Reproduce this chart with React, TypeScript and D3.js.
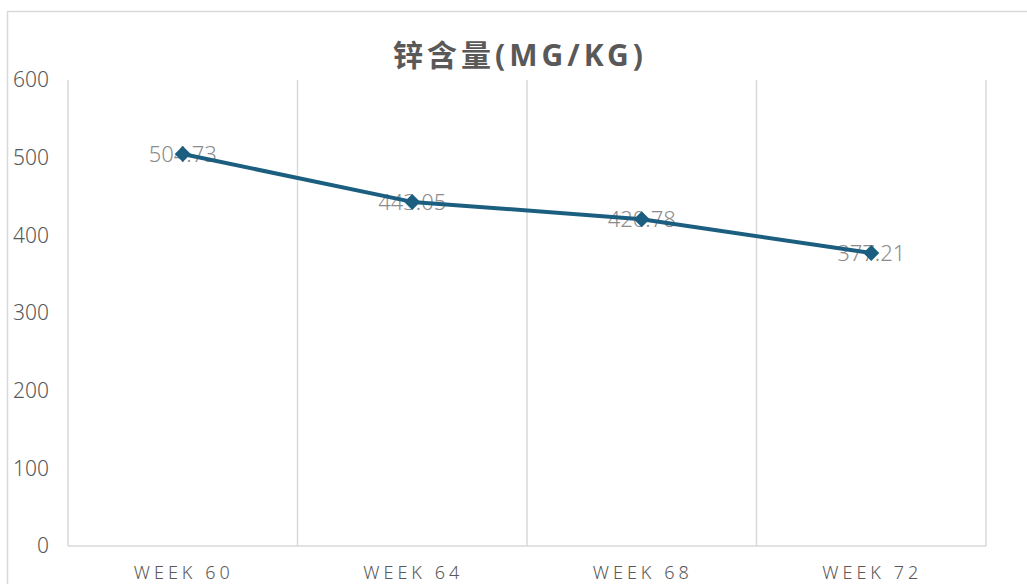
import React from 'react';
import * as d3 from 'd3';

const categories = ['WEEK 60', 'WEEK 64', 'WEEK 68', 'WEEK 72'];
const zincValues = [504.73, 443.05, 420.78, 377.21];
const yTicks = [0, 100, 200, 300, 400, 500, 600];
const chartTitle = '锌含量(MG/KG)';

const App: React.FC = () => {
  const width = 1027;
  const height = 584;
  const plot = { left: 68, right: 986, top: 80, bottom: 546 };

  const x = d3.scaleBand<string>()
    .domain(categories)
    .range([plot.left, plot.right]);

  const y = d3.scaleLinear()
    .domain([0, 600])
    .range([plot.bottom, plot.top]);

  const cx = (i: number) => (x(categories[i]) ?? 0) + x.bandwidth() / 2;

  const line = d3.line<number>()
    .x((_, i) => cx(i))
    .y((d) => y(d));

  // category boundaries -> vertical gridlines
  const bounds = categories.map((c) => x(c) ?? 0).concat([plot.right]);

  const font = '"Noto Sans", "Noto Sans CJK SC", sans-serif';
  const r = 8; // diamond half-diagonal

  return (
    <svg
      width={width}
      height={height}
      style={{ position: 'absolute', left: 0, top: 0, display: 'block' }}
    >
      <rect x={0} y={0} width={width} height={height} fill="#fff" />
      <rect x={7.5} y={11.5} width={1040} height={600} fill="none" stroke="#d9d9d9" strokeWidth={1.5} />

      <text
        x={520}
        y={66}
        textAnchor="middle"
        fontFamily={font}
        fontWeight="bold"
        fontSize={30}
        letterSpacing={4}
        fill="#595959"
      >
        {chartTitle}
      </text>

      {bounds.map((b, i) => (
        <line key={i} x1={b} x2={b} y1={plot.top} y2={plot.bottom} stroke="#d9d9d9" strokeWidth={1.5} />
      ))}
      <line x1={plot.left} x2={plot.right} y1={plot.bottom} y2={plot.bottom} stroke="#d9d9d9" strokeWidth={1.5} />

      {yTicks.map((t) => (
        <text
          key={t}
          x={49}
          y={y(t)}
          dy="0.35em"
          textAnchor="end"
          fontFamily={font}
          fontWeight={300}
          fontSize={21}
          fill="#595959"
        >
          {t}
        </text>
      ))}

      {categories.map((c, i) => (
        <text
          key={c}
          x={cx(i) + 1}
          y={579}
          textAnchor="middle"
          fontFamily={font}
          fontWeight={300}
          fontSize={18}
          letterSpacing={4}
          fill="#595959"
        >
          {c}
        </text>
      ))}

      {zincValues.map((v, i) => (
        <text
          key={i}
          x={cx(i)}
          y={y(v)}
          dy="0.35em"
          textAnchor="middle"
          fontFamily={font}
          fontWeight={300}
          fontSize={22}
          fill="#8c8c8c"
        >
          {v.toFixed(2)}
        </text>
      ))}

      <path d={line(zincValues) ?? ''} fill="none" stroke="#1b5e80" strokeWidth={4} strokeLinejoin="round" />

      {zincValues.map((v, i) => (
        <path
          key={i}
          d={`M0,${-r}L${r},0L0,${r}L${-r},0Z`}
          transform={`translate(${cx(i)},${y(v)})`}
          fill="#1b5e80"
        />
      ))}
    </svg>
  );
};

export default App;
